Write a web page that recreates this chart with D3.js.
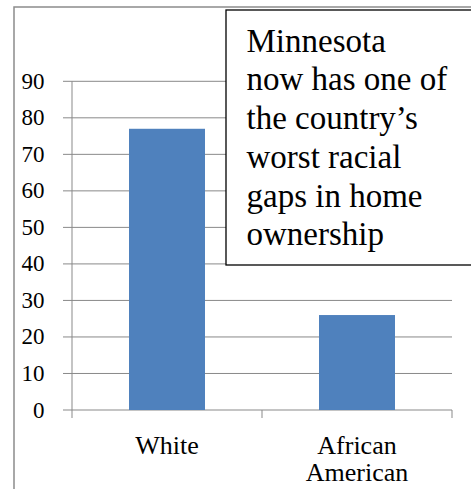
<!DOCTYPE html>
<html>
<head>
<meta charset="utf-8">
<script src="https://cdn.jsdelivr.net/npm/d3@7"></script>
<style>
  body { margin: 0; background: #fff; }
</style>
</head>
<body>
<div id="chart"></div>
<script>
// data
var categories = ["White", "African American"];
var catLines = [["White"], ["African", "American"]];
var values = [77, 26];
var yTicks = [0, 10, 20, 30, 40, 50, 60, 70, 80, 90];
var noteLines = ["Minnesota", "now has one of", "the country\u2019s", "worst racial", "gaps in home", "ownership"];

var serif = "'Liberation Serif', 'DejaVu Serif', serif";
var svgWidth = 471, svgHeight = 489;
var plot = { left: 72, right: 452, top: 81.3, bottom: 410 };

var svg = d3.select("#chart")
  .append("svg")
  .attr("width", svgWidth)
  .attr("height", svgHeight)
  .attr("font-family", serif);

// outer chart frame (right/bottom edges fall outside the picture)
svg.append("rect")
  .attr("x", 14).attr("y", 7)
  .attr("width", 480).attr("height", 500)
  .attr("fill", "#fff")
  .attr("stroke", "#8c8c8c")
  .attr("stroke-width", 1.5);

var x = d3.scaleBand()
  .domain(categories)
  .range([plot.left, plot.right])
  .paddingInner(0.6)
  .paddingOuter(0.3);

var y = d3.scaleLinear()
  .domain([0, 90])
  .range([plot.bottom, plot.top]);

// gridlines + outside tick marks
svg.append("g").selectAll("line")
  .data(yTicks)
  .enter()
  .append("line")
  .attr("x1", plot.left - 9)
  .attr("x2", plot.right)
  .attr("y1", d => y(d))
  .attr("y2", d => y(d))
  .attr("stroke", "#898989")
  .attr("stroke-width", 1);

// y tick labels
svg.append("g").selectAll("text")
  .data(yTicks)
  .enter()
  .append("text")
  .attr("x", 44.5)
  .attr("y", d => y(d) + 7.5)
  .attr("text-anchor", "end")
  .attr("font-family", serif)
  .attr("font-size", 23)
  .text(d => d);

// y axis line
svg.append("line")
  .attr("x1", plot.left).attr("x2", plot.left)
  .attr("y1", y(90)).attr("y2", y(0))
  .attr("stroke", "#898989");

// x axis category separators
var bounds = categories.map(c => x(c) - x.step() * x.paddingInner() / 2);
bounds.push(plot.right);
bounds[0] = plot.left;
svg.append("g").selectAll("line")
  .data(bounds)
  .enter()
  .append("line")
  .attr("x1", d => d).attr("x2", d => d)
  .attr("y1", y(0)).attr("y2", y(0) + 8)
  .attr("stroke", "#898989");

// bars
svg.append("g").selectAll("rect")
  .data(values)
  .enter()
  .append("rect")
  .attr("x", (d, i) => x(categories[i]))
  .attr("y", d => y(d))
  .attr("width", x.bandwidth())
  .attr("height", d => y(0) - y(d))
  .attr("fill", "#4f81bd");

// category labels
var catText = svg.append("g").selectAll("text")
  .data(catLines)
  .enter()
  .append("text")
  .attr("text-anchor", "middle")
  .attr("font-family", serif)
  .attr("font-size", 26);
catText.selectAll("tspan")
  .data((d, i) => d.map(t => ({ t: t, i: i })))
  .enter()
  .append("tspan")
  .attr("x", d => x(categories[d.i]) + x.bandwidth() / 2)
  .attr("y", (d, j) => 454 + j * 27)
  .text(d => d.t);

// annotation box
svg.append("rect")
  .attr("x", 226).attr("y", 10)
  .attr("width", 270).attr("height", 255)
  .attr("fill", "#fff")
  .attr("stroke", "#000")
  .attr("stroke-width", 1.3);

svg.append("g").selectAll("text")
  .data(noteLines)
  .enter()
  .append("text")
  .attr("x", 246.5)
  .attr("y", (d, i) => 51.7 + i * 38.7)
  .attr("font-family", serif)
  .attr("font-size", 33)
  .text(d => d);
</script>
</body>
</html>
